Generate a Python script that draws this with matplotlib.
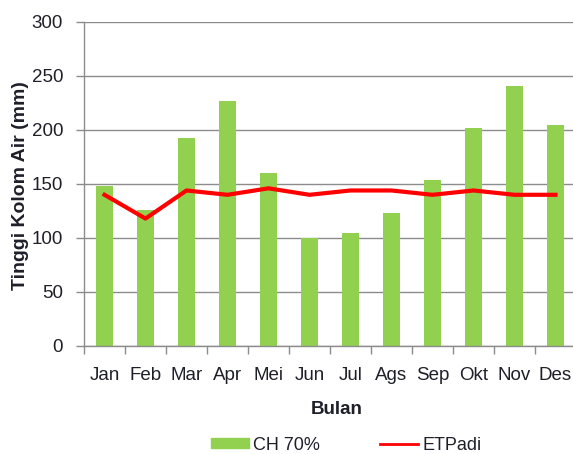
import matplotlib
matplotlib.use("Agg")
import matplotlib.pyplot as plt
import numpy as np
from matplotlib.lines import Line2D
from matplotlib.patches import Patch

months = ["Jan", "Feb", "Mar", "Apr", "Mei", "Jun", "Jul", "Ags", "Sep", "Okt", "Nov", "Des"]
ch70 = [148, 126, 193, 227, 160, 100, 105, 123, 154, 202, 241, 205]
etpadi = [140, 118, 144, 140, 146, 140, 144, 144, 140, 144, 140, 140]
yticks = [0, 50, 100, 150, 200, 250, 300]

plt.rcParams['font.family'] = ['Liberation Sans', 'DejaVu Sans']
txt = '#1f1f2a'
W, H = 573, 454
fig = plt.figure(figsize=(W/100, H/100), dpi=100)
ax = fig.add_axes([84/W, (H-346)/H, 492/W, 324/H])

x = np.arange(len(months))
ax.bar(x, ch70, width=0.43, color='#92D050', zorder=2)
ax.plot(x, etpadi, color='#FF0000', lw=3, zorder=3, solid_joinstyle='round')

ax.set_xlim(-0.5, 11.5)
ax.set_ylim(0, 300)
ax.set_yticks(yticks)
ax.set_yticklabels([str(v) for v in yticks], fontsize=13.5, color=txt)
ax.yaxis.grid(True, color='#8c8c8c', lw=1, zorder=0)
ax.set_axisbelow(True)

ax.set_xticks(np.arange(-0.5, 12, 1), minor=False)
ax.set_xticklabels([])
ax.set_xticks(x, minor=True)
ax.set_xticklabels(months, minor=True, fontsize=13.5, color=txt)
ax.tick_params(axis='x', which='minor', length=0, pad=15)
ax.tick_params(axis='x', which='major', length=6, color='#8c8c8c', width=1)
ax.tick_params(axis='y', length=6, color='#8c8c8c', width=1, pad=9)

for s in ['top', 'right']:
    ax.spines[s].set_visible(False)
for s in ['left', 'bottom']:
    ax.spines[s].set_color('#8c8c8c')
    ax.spines[s].set_linewidth(1)

fig.text(21/W, 1-186/H, 'Tinggi Kolom Air (mm)', fontsize=14, fontweight='bold', color=txt,
         ha='center', va='center', rotation=90)
fig.text(337/W, 1-410/H, 'Bulan', fontsize=13.5, fontweight='bold', color=txt, ha='center', va='center')

handles = [Patch(color='#92D050'), Line2D([0], [0], color='#FF0000', lw=2)]
fig.legend(handles, ['CH 70%', 'ETPadi'], loc='center', bbox_to_anchor=(346/W, 1-445/H),
           ncol=2, frameon=False, fontsize=13, handlelength=2.1, handleheight=0.5,
           columnspacing=3.3, handletextpad=0.25, labelcolor=txt)

fig.savefig('out.png', dpi=100)
